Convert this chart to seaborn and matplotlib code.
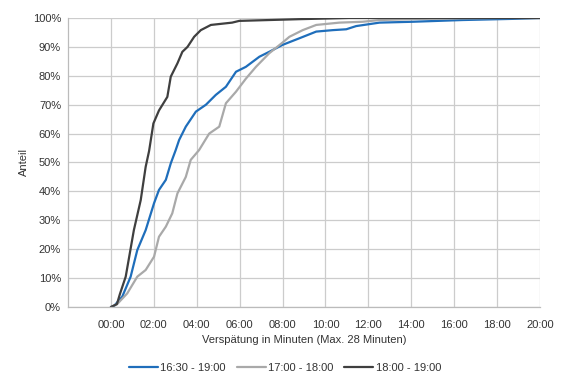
import matplotlib
matplotlib.use("Agg")
import matplotlib.pyplot as plt
from matplotlib.ticker import FuncFormatter, MultipleLocator
import numpy as np
import pandas as pd
import seaborn as sns

# Cumulative share of delayed trains by delay (minutes), per time window
blue_min = [0, 0.14, 0.53, 0.92, 1.23, 1.62, 2.01, 2.24, 2.56, 2.79, 3.02, 3.18, 3.49, 3.96,
            4.43, 4.89, 5.36, 5.83, 6.29, 6.92, 7.38, 8.0, 8.79, 9.57, 10.34, 10.97, 11.43,
            12.52, 14.07, 16.4, 18.74, 20.0]
blue_pct = [0, 0.3, 3.6, 10.5, 19.7, 26.6, 35.9, 40.5, 44.0, 49.7, 54.3, 57.8, 62.4, 67.6,
            70.0, 73.4, 76.2, 81.4, 83.1, 86.6, 88.3, 90.7, 93.0, 95.3, 95.8, 96.1, 97.2,
            98.4, 98.7, 99.3, 99.7, 100.0]

gray_min = [0, 0.29, 0.76, 1.23, 1.62, 2.01, 2.24, 2.56, 2.86, 3.10, 3.49, 3.72, 4.11, 4.58,
            5.05, 5.36, 5.83, 6.29, 6.76, 7.38, 8.0, 8.32, 8.94, 9.57, 10.65, 11.73, 12.52,
            14.4, 18.1, 20.0]
gray_pct = [0, 1.0, 4.7, 10.5, 12.8, 17.4, 24.3, 27.8, 32.4, 39.3, 45.0, 50.9, 54.3, 60.0,
            62.4, 70.5, 74.5, 79.0, 83.1, 87.8, 91.5, 93.5, 95.8, 97.6, 98.4, 98.7, 99.3,
            99.7, 100.0, 100.0]

black_min = [0, 0.28, 0.42, 0.69, 1.07, 1.39, 1.62, 1.78, 1.98, 2.24, 2.63, 2.79, 3.10, 3.33,
             3.57, 3.88, 4.19, 4.66, 5.65, 5.98, 8.8, 11.1, 20.0]
black_pct = [0, 1.0, 4.5, 10.5, 26.6, 37.0, 48.5, 54.0, 63.5, 68.0, 72.7, 79.7, 84.3, 88.3,
             90.0, 93.5, 95.8, 97.6, 98.4, 99.0, 99.6, 100.0, 100.0]

series_names = ["16:30 - 19:00", "17:00 - 18:00", "18:00 - 19:00"]
series_colors = ["#1F6EBB", "#A9A9A9", "#3F3F3F"]

frames = []
for name, xs, ys in zip(series_names,
                        [blue_min, gray_min, black_min],
                        [blue_pct, gray_pct, black_pct]):
    frames.append(pd.DataFrame({"Minuten": xs, "Anteil": np.array(ys) / 100.0, "Zeitraum": name}))
df = pd.concat(frames, ignore_index=True)

sns.set_theme(style="white")
plt.rcParams["font.family"] = ["Liberation Sans", "DejaVu Sans"]

fig = plt.figure(figsize=(5.62, 3.74), dpi=100)
ax = fig.add_axes([68 / 562, 1 - 307 / 374, (540 - 68) / 562, (307 - 18) / 374])

sns.lineplot(data=df, x="Minuten", y="Anteil", hue="Zeitraum", hue_order=series_names,
             palette=series_colors, linewidth=1.6, sort=False, estimator=None, ax=ax,
             legend=True)

ax.set_xlim(-2, 20)
ax.set_ylim(0, 1)
ax.set_xticks(np.arange(0, 21, 2))
ax.xaxis.set_major_formatter(FuncFormatter(lambda v, p: f"{int(v):02d}:00"))
ax.xaxis.set_minor_locator(MultipleLocator(1))
ax.yaxis.set_major_locator(MultipleLocator(0.1))
ax.yaxis.set_minor_locator(MultipleLocator(0.05))
ax.yaxis.set_major_formatter(FuncFormatter(lambda v, p: f"{round(v * 100):d}%"))

ax.grid(True, which="major", color="#CCCCCC", linewidth=0.9)
ax.set_axisbelow(True)
for side in ["top", "right"]:
    ax.spines[side].set_visible(False)
for side in ["left", "bottom"]:
    ax.spines[side].set_color("#BBBBBB")
    ax.spines[side].set_linewidth(0.9)

ax.tick_params(axis="y", which="major", length=0, labelsize=8, colors="#333333", pad=5)
ax.tick_params(axis="x", which="major", length=0, labelsize=8, colors="#333333", pad=9)
ax.tick_params(axis="both", which="minor", length=3, width=0.8, color="#BBBBBB",
               direction="in")

ax.set_xlabel("Verspätung in Minuten (Max. 28 Minuten)", fontsize=8, color="#333333", labelpad=4)
ax.set_ylabel("Anteil", fontsize=8, color="#333333", labelpad=3)

ax.legend(loc="center", bbox_to_anchor=((285 - 68) / 472, -(368 - 307) / 289), ncol=3,
          frameon=False, fontsize=8, handlelength=2.6, handletextpad=0.2, columnspacing=1.0,
          labelcolor="#333333", borderpad=0.2)

fig.savefig("out.png", dpi=100)
